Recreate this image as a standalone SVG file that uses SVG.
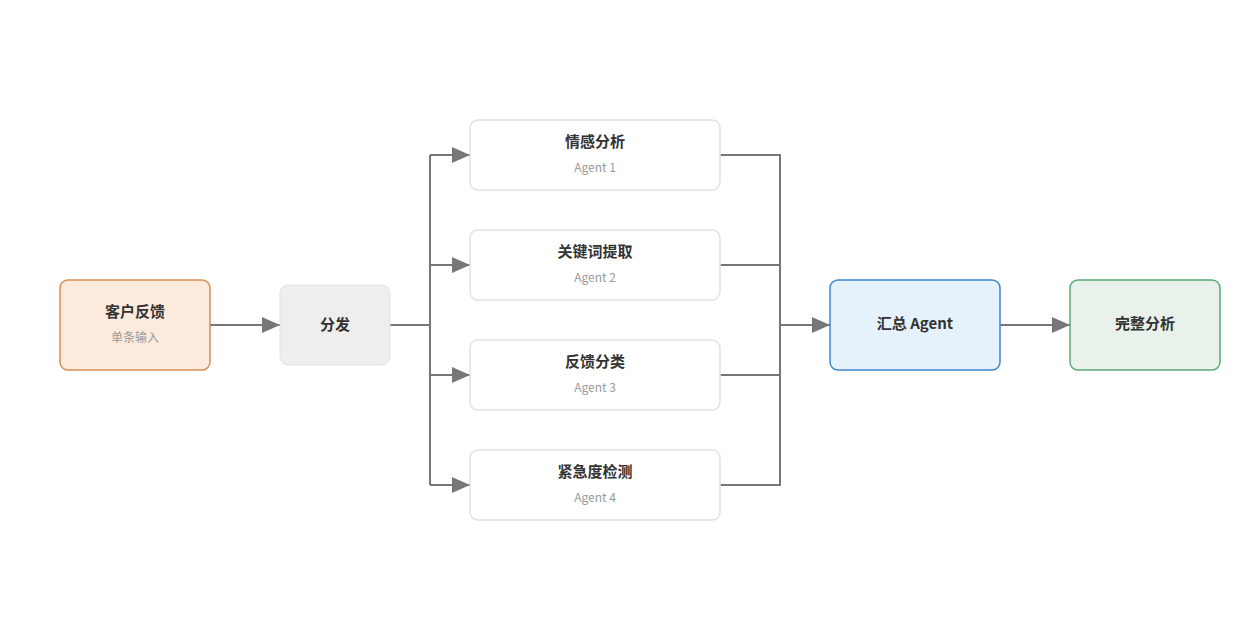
<svg xmlns="http://www.w3.org/2000/svg" width="1240" height="640" viewBox="0 0 1240 640">
<style>
text{font-family:"Noto Sans CJK SC","Noto Sans",sans-serif;text-anchor:middle}
.t{font-size:15px;font-weight:bold;fill:#333}
.s{font-size:12px;fill:#999}
.c{fill:none;stroke:#777;stroke-width:2}
.w{fill:#fff;stroke:#e2e2e2;stroke-width:1.5}
</style>
<defs><marker id="a" markerWidth="10" markerHeight="10" refX="9" refY="5" orient="auto" markerUnits="userSpaceOnUse" viewBox="0 0 10 10"><path d="M0,0L10,5L0,10z" fill="#777"/></marker>
<marker id="b" markerWidth="18" markerHeight="16" refX="18" refY="8" orient="auto" markerUnits="userSpaceOnUse"><path d="M0,0L18,8L0,16z" fill="#777"/></marker></defs>
<rect width="1240" height="640" fill="#fff"/>
<g id="connectors">
<path class="c" d="M210,325H280" marker-end="url(#b)"/>
<path class="c" d="M390,325H430"/>
<path class="c" d="M430,155V485"/>
<path class="c" d="M430,155H470" marker-end="url(#b)"/>
<path class="c" d="M430,265H470" marker-end="url(#b)"/>
<path class="c" d="M430,375H470" marker-end="url(#b)"/>
<path class="c" d="M430,485H470" marker-end="url(#b)"/>
<path class="c" d="M720,155H780V485H720M720,265H780M720,375H780"/>
<path class="c" d="M780,325H830" marker-end="url(#b)"/>
<path class="c" d="M1000,325H1070" marker-end="url(#b)"/>
</g>
<g id="n1"><rect x="60" y="280" width="150" height="90" rx="8" fill="#fcebdd" stroke="#d98e55" stroke-width="1.5"/><text class="t" x="135" y="317">客户反馈</text><text class="s" x="135" y="342">单条输入</text></g>
<g id="n2"><rect x="280" y="285" width="110" height="80" rx="8" fill="#efeeec" stroke="#e2e2e2"/><text class="t" x="335" y="330">分发</text></g>
<g id="a1"><rect class="w" x="470" y="120" width="250" height="70" rx="8"/><text class="t" x="595" y="147">情感分析</text><text class="s" x="595" y="172">Agent 1</text></g>
<g id="a2"><rect class="w" x="470" y="230" width="250" height="70" rx="8"/><text class="t" x="595" y="257">关键词提取</text><text class="s" x="595" y="282">Agent 2</text></g>
<g id="a3"><rect class="w" x="470" y="340" width="250" height="70" rx="8"/><text class="t" x="595" y="367">反馈分类</text><text class="s" x="595" y="392">Agent 3</text></g>
<g id="a4"><rect class="w" x="470" y="450" width="250" height="70" rx="8"/><text class="t" x="595" y="477">紧急度检测</text><text class="s" x="595" y="502">Agent 4</text></g>
<g id="sum"><rect x="830" y="280" width="170" height="90" rx="8" fill="#e5f1fb" stroke="#3d87d0" stroke-width="1.5"/><text class="t" x="915" y="329">汇总 Agent</text></g>
<g id="out"><rect x="1070" y="280" width="150" height="90" rx="8" fill="#e8f1ea" stroke="#5aab77" stroke-width="1.5"/><text class="t" x="1145" y="329">完整分析</text></g>
</svg>
